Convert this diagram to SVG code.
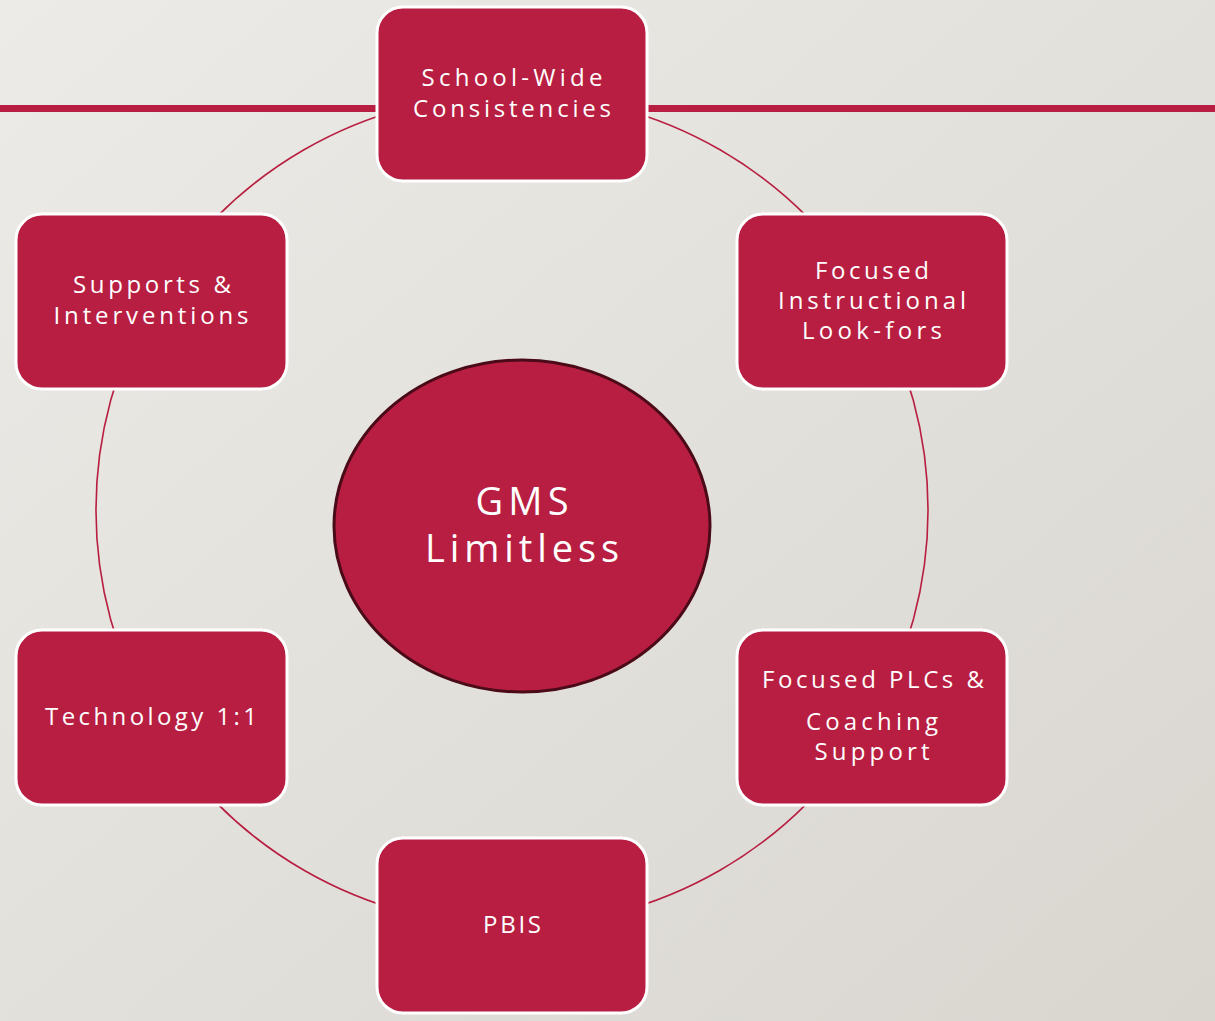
<svg xmlns="http://www.w3.org/2000/svg" width="1215" height="1021" viewBox="0 0 1215 1021">
<defs>
<linearGradient id="bg" x1="0" y1="0" x2="1" y2="1">
<stop offset="0" stop-color="#ecebe7"/>
<stop offset="1" stop-color="#d9d6d0"/>
</linearGradient>
<style>
.box{fill:#b81e41;stroke:#ffffff;stroke-width:3}
.ring{fill:none;stroke:#b81e41;stroke-width:1.6}
.t{font-family:"Open Sans","Noto Sans","DejaVu Sans",sans-serif;fill:#ffffff;font-size:24px;text-anchor:middle}
.big{font-size:38px}
</style>
</defs>
<rect x="0" y="0" width="1215" height="1021" fill="url(#bg)"/>
<rect x="0" y="105" width="1215" height="7" fill="#b81e41"/>
<g id="connectors">
<path class="ring" d="M512 94 A416 416 0 0 1 872.3 302"/>
<path class="ring" d="M872.3 302 A416 416 0 0 1 872.3 718"/>
<path class="ring" d="M872.3 718 A416 416 0 0 1 512 926"/>
<path class="ring" d="M512 926 A416 416 0 0 1 151.7 718"/>
<path class="ring" d="M151.7 718 A416 416 0 0 1 151.7 302"/>
<path class="ring" d="M151.7 302 A416 416 0 0 1 512 94"/>
</g>
<g id="center">
<ellipse cx="522" cy="526" rx="188" ry="166" fill="#b81e41" stroke="#4a0a18" stroke-width="3"/>
<text class="t big" x="522" y="515" textLength="93" lengthAdjust="spacing">GMS</text>
<text class="t big" x="522" y="562" textLength="194" lengthAdjust="spacing">Limitless</text>
</g>
<g id="school-wide">
<rect class="box" x="377" y="7" width="270" height="174" rx="26"/>
<text class="t" x="512" y="86" textLength="181" lengthAdjust="spacing">School-Wide</text>
<text class="t" x="512" y="117" textLength="198" lengthAdjust="spacing">Consistencies</text>
</g>
<g id="focused-instructional">
<rect class="box" x="737" y="214" width="270" height="175" rx="26"/>
<text class="t" x="872" y="279" textLength="114" lengthAdjust="spacing">Focused</text>
<text class="t" x="872" y="309" textLength="188" lengthAdjust="spacing">Instructional</text>
<text class="t" x="872" y="339" textLength="140" lengthAdjust="spacing">Look-fors</text>
</g>
<g id="focused-plcs">
<rect class="box" x="737" y="630" width="270" height="175" rx="26"/>
<text class="t" x="873" y="688" textLength="222" lengthAdjust="spacing">Focused PLCs &amp;</text>
<text class="t" x="872" y="730" textLength="132" lengthAdjust="spacing">Coaching</text>
<text class="t" x="872" y="760" textLength="115" lengthAdjust="spacing">Support</text>
</g>
<g id="pbis">
<rect class="box" x="377" y="838" width="270" height="175" rx="26"/>
<text class="t" x="512" y="933" textLength="58" lengthAdjust="spacing">PBIS</text>
</g>
<g id="technology">
<rect class="box" x="16" y="630" width="271" height="175" rx="26"/>
<text class="t" x="151" y="725" textLength="212" lengthAdjust="spacing">Technology 1:1</text>
</g>
<g id="supports">
<rect class="box" x="16" y="214" width="271" height="175" rx="26"/>
<text class="t" x="152" y="293" textLength="158" lengthAdjust="spacing">Supports &amp;</text>
<text class="t" x="151" y="324" textLength="195" lengthAdjust="spacing">Interventions</text>
</g>
</svg>
